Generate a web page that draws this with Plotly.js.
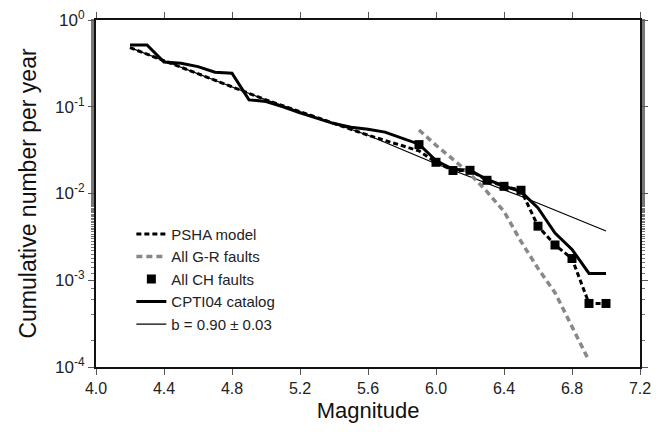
<!DOCTYPE html>
<html><head><meta charset="utf-8">
<script src="https://cdn.plot.ly/plotly-3.0.1.min.js"></script>
<style>html,body{margin:0;padding:0;background:#fff}#c{width:665px;height:432px}</style>
</head><body><div id="c"></div>
<script>
// Magnitudes
const magCatalog = [4.2,4.3,4.4,4.5,4.6,4.7,4.8,4.9,5.0,5.1,5.2,5.3,5.4,5.5,5.6,5.7,5.8,5.9,6.0,6.1,6.2,6.3,6.4,6.5,6.6,6.7,6.8,6.9,7.0];
const rateCatalog = [0.516,0.516,0.327,0.318,0.29,0.25,0.244,0.12,0.115,0.10,0.085,0.074,0.064,0.058,0.055,0.051,0.043,0.037,0.024,0.019,0.0185,0.0145,0.0122,0.0105,0.0068,0.0035,0.00227,0.0012,0.0012];

const magPSHA = [4.2,5.0,5.6,5.9,6.0,6.1,6.2,6.3,6.4,6.5,6.6,6.7,6.8,6.9,7.0];
const ratePSHA = [0.48,0.12,0.047,0.031,0.0229,0.0184,0.0185,0.0142,0.0121,0.0109,0.0042,0.00255,0.00178,0.00054,0.00054];

const magGR = [5.9,6.0,6.1,6.2,6.3,6.4,6.5,6.6,6.7,6.8,6.9];
const rateGR = [0.054,0.036,0.0248,0.0168,0.0105,0.0062,0.0028,0.00137,0.00072,0.00029,0.000118];

const magCH = [5.9,6.0,6.1,6.2,6.3,6.4,6.5,6.6,6.7,6.8,6.9,7.0];
const rateCH = [0.0366,0.0229,0.0184,0.0185,0.0142,0.0121,0.0109,0.0042,0.00255,0.00178,0.00054,0.00054];

const magB = [4.2,5.0,5.6,6.0,6.5,7.0];
const rateB = [0.48,0.12,0.047,0.022,0.0093,0.0037];

const xTicks = [4.0,4.4,4.8,5.2,5.6,6.0,6.4,6.8,7.2];
const yTickVals = [1,0.1,0.01,0.001,0.0001];
const yTickText = ['10<sup>0</sup>','10<sup>-1</sup>','10<sup>-2</sup>','10<sup>-3</sup>','10<sup>-4</sup>'];

const traces = [
  {x: magB, y: rateB, mode:'lines', name:'b = 0.90 ± 0.03', legendrank:5, legendgroup:'e',
   line:{color:'#000', width:1.2}},
  {x: magCatalog, y: rateCatalog, mode:'lines', name:'CPTI04 catalog', legendrank:4, legendgroup:'d',
   line:{color:'#000', width:3}},
  {x: magGR, y: rateGR, mode:'lines', name:'All G-R faults', legendrank:2, legendgroup:'b',
   line:{color:'#888', width:3.5, dash:'6px,4px'}},
  {x: magPSHA, y: ratePSHA, mode:'lines', name:'PSHA model', legendrank:1, legendgroup:'a',
   line:{color:'#000', width:3, dash:'5px,3px'}},
  {x: magCH, y: rateCH, mode:'markers', name:'All CH faults', legendrank:3, legendgroup:'c',
   marker:{symbol:'square', color:'#000', size:9}}
];

const font = "'Liberation Sans', Arial, sans-serif";
const layout = {
  width:665, height:432,
  margin:{l:96, r:25, t:20, b:65},
  paper_bgcolor:'#fff', plot_bgcolor:'#fff',
  font:{family:font, color:'#222', size:15},
  showlegend:true,
  legend:{x:0.065, y:0.43, xanchor:'left', yanchor:'top', bgcolor:'rgba(0,0,0,0)',
          font:{family:font, size:15, color:'#222'}, tracegroupgap:0, traceorder:'grouped'},
  xaxis:{range:[4.0,7.2], tickvals:xTicks, ticktext:xTicks.map(v=>v.toFixed(1)),
         ticks:'outside', ticklen:6, tickcolor:'#555', showgrid:false, zeroline:false,
         showline:true, linecolor:'#111', linewidth:2, mirror:'allticks',
         tickfont:{size:16, color:'#222'},
         title:{text:'Magnitude', font:{size:22, color:'#111'}, standoff:6}},
  yaxis:{type:'log', range:[-4,0], tickvals:yTickVals, ticktext:yTickText,
         ticks:'outside', ticklen:6, tickcolor:'#555', showgrid:false, zeroline:false,
         showline:true, linecolor:'#111', linewidth:2, mirror:'allticks',
         tickfont:{size:17, color:'#222'},
         minor:{ticks:'outside', ticklen:3, tickcolor:'#777', showgrid:false},
         title:{text:'Cumulative number per year', font:{size:23, color:'#111'}, standoff:12}}
};
Plotly.newPlot('c', traces, layout, {displayModeBar:false, staticPlot:true});
</script></body></html>
